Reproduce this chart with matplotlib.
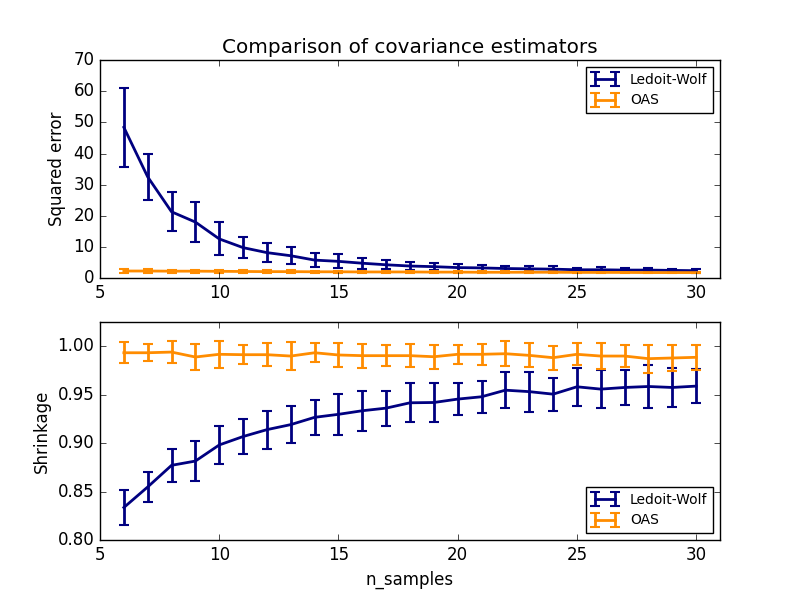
import matplotlib
matplotlib.use("Agg")
import matplotlib.pyplot as plt

plt.style.use("classic")

n_samples = list(range(6, 31))

lw_mse = [48.4, 32.5, 21.3, 18.0, 12.6, 9.8, 8.2, 7.2, 5.8, 5.4, 4.8, 4.3, 3.9,
          3.7, 3.4, 3.3, 3.1, 3.0, 2.9, 2.7, 2.7, 2.6, 2.6, 2.5, 2.4]
lw_mse_std = [12.6, 7.4, 6.2, 6.5, 5.3, 3.4, 3.0, 2.7, 2.2, 2.2, 1.8, 1.5, 1.3,
              1.2, 1.0, 1.0, 0.9, 0.9, 0.9, 0.7, 0.8, 0.7, 0.7, 0.6, 0.6]
oa_mse = [2.3, 2.3, 2.25, 2.25, 2.2, 2.15, 2.1, 2.1, 2.05, 2.05, 2.0, 2.0, 2.0,
          1.95, 1.95, 1.9, 1.9, 1.9, 1.9, 1.85, 1.85, 1.85, 1.8, 1.8, 1.8]
oa_mse_std = [0.6, 0.5, 0.5, 0.5, 0.5, 0.4, 0.4, 0.4, 0.35, 0.35, 0.3, 0.3, 0.3,
              0.3, 0.3, 0.3, 0.25, 0.25, 0.25, 0.25, 0.25, 0.25, 0.2, 0.2, 0.2]

lw_shrink = [0.8335, 0.8547, 0.877, 0.8814, 0.898, 0.9067, 0.9138, 0.919, 0.9265,
             0.9296, 0.9333, 0.936, 0.9415, 0.9418, 0.9453, 0.9477, 0.9545, 0.953,
             0.9504, 0.958, 0.9556, 0.9573, 0.9583, 0.9573, 0.9587]
lw_shrink_std = [0.018, 0.015, 0.017, 0.0205, 0.0197, 0.018, 0.0195, 0.019, 0.0178,
                 0.021, 0.0205, 0.018, 0.02, 0.0205, 0.0164, 0.0165, 0.0186, 0.0205,
                 0.017, 0.0193, 0.0195, 0.0185, 0.0225, 0.0198, 0.0172]
oa_shrink = [0.9931, 0.9931, 0.9938, 0.9887, 0.9915, 0.9911, 0.9911, 0.9897, 0.9931,
             0.9908, 0.9901, 0.9901, 0.9901, 0.989, 0.9915, 0.9915, 0.9921, 0.9904,
             0.988, 0.9915, 0.9897, 0.9897, 0.987, 0.9877, 0.9884]
oa_shrink_std = [0.0107, 0.009, 0.011, 0.0137, 0.014, 0.01, 0.0118, 0.014, 0.01,
                 0.0127, 0.0125, 0.011, 0.012, 0.0125, 0.0097, 0.011, 0.0127, 0.0123,
                 0.0125, 0.0113, 0.013, 0.0115, 0.0145, 0.0133, 0.0127]

fig = plt.figure(figsize=(8, 6), dpi=100)
fig.patch.set_facecolor("white")

eb = dict(lw=2, capsize=3.5, capthick=1.5)

ax1 = plt.subplot(2, 1, 1)
ax1.errorbar(n_samples, lw_mse, yerr=lw_mse_std, label="Ledoit-Wolf",
             color="navy", **eb)
ax1.errorbar(n_samples, oa_mse, yerr=oa_mse_std, label="OAS",
             color="darkorange", **eb)
ax1.set_ylabel("Squared error")
ax1.legend(loc="upper right", fontsize=10)
ax1.set_title("Comparison of covariance estimators")
ax1.set_xlim(5, 31)
ax1.set_ylim(0, 70)

ax2 = plt.subplot(2, 1, 2)
ax2.errorbar(n_samples, lw_shrink, yerr=lw_shrink_std, label="Ledoit-Wolf",
             color="navy", **eb)
ax2.errorbar(n_samples, oa_shrink, yerr=oa_shrink_std, label="OAS",
             color="darkorange", **eb)
ax2.set_xlabel("n_samples")
ax2.set_ylabel("Shrinkage")
ax2.legend(loc="lower right", fontsize=10)
ax2.set_ylim(0.8, 1.025)
ax2.set_xlim(5, 31)

fig.savefig("out.png", dpi=100, facecolor="white")
